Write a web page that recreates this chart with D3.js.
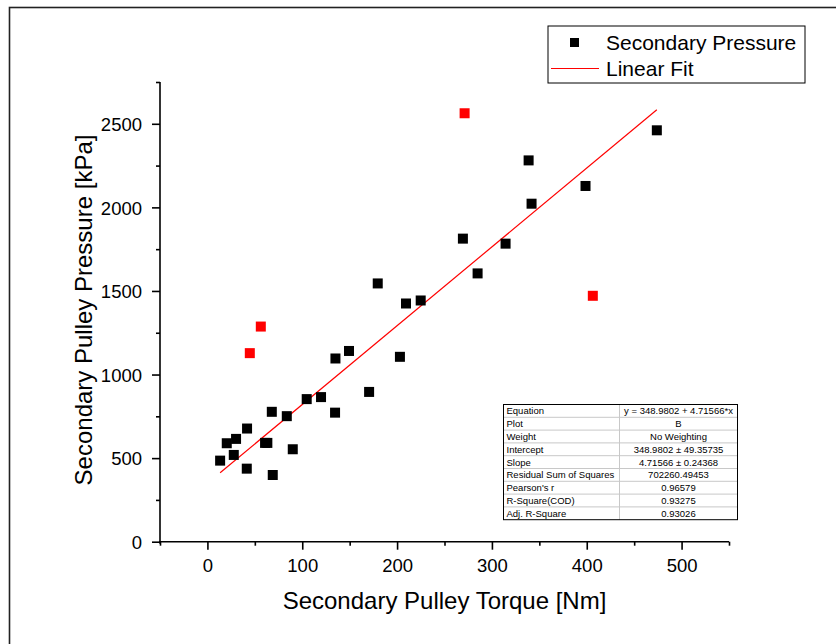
<!DOCTYPE html>
<html>
<head>
<meta charset="utf-8">
<script src="https://cdn.jsdelivr.net/npm/d3@7"></script>
<style>
  html, body { margin: 0; padding: 0; background: #fff; }
  svg { display: block; font-family: Arial, "Liberation Sans", sans-serif; }
</style>
</head>
<body>
<div id="chart"></div>
<script>
// Secondary pulley torque vs pressure, with linear fit

// Data
const torqueBlack = [13.4, 20.4, 27.8, 30.2, 41.5, 41.8, 60.8, 63.2, 67.9, 68.9, 83.7, 90, 104.7, 119.8,
    134.6, 135, 149.3, 170.5, 179.6, 203, 209.4, 224.9, 269.4, 284.9, 314.4, 338.7, 341.8, 398.7, 473.9];
const pressureBlack = [485, 589, 519, 615, 437, 677, 591, 591, 777, 399, 751, 553, 853, 865,
    772, 1096, 1141, 896, 1545, 1106, 1425, 1443, 1813, 1605, 1783, 2281, 2022, 2128, 2461];
const torqueRed = [44.7, 56.3, 271.2, 406.4];
const pressureRed = [1128, 1287, 2563, 1471];

const fitIntercept = 348.9802;
const fitSlope = 4.71566;

const xTicks = [0, 100, 200, 300, 400, 500];
const yTicks = [0, 500, 1000, 1500, 2000, 2500];

const statRows = [
    ['Equation', 'y = 348.9802 + 4.71566*x'],
    ['Plot', 'B'],
    ['Weight', 'No Weighting'],
    ['Intercept', '348.9802 \u00b1 49.35735'],
    ['Slope', '4.71566 \u00b1 0.24368'],
    ['Residual Sum of Squares', '702260.49453'],
    ["Pearson's r", '0.96579'],
    ['R-Square(COD)', '0.93275'],
    ['Adj. R-Square', '0.93026']
];

const W = 836, H = 644;
const plot = { left: 160, right: 729, top: 82, bottom: 541.7 };

const svg = d3.select('#chart').append('svg')
    .attr('width', W)
    .attr('height', H);

// Outer frame (runs off the right and bottom edges)
svg.append('rect')
    .attr('x', 9.5).attr('y', 7.5)
    .attr('width', 900).attr('height', 700)
    .attr('fill', 'none')
    .attr('stroke', '#222')
    .attr('stroke-width', 1.6);

const x = d3.scaleLinear().domain([-50, 550]).range([plot.left, plot.right]);
const y = d3.scaleLinear().domain([0, 2750]).range([plot.bottom, plot.top]);

// X axis: major + minor ticks
const xAxis = svg.append('g')
    .attr('transform', `translate(0,${plot.bottom})`);
xAxis.call(d3.axisBottom(x).tickValues(d3.range(-50, 551, 50)).tickSize(4).tickFormat(''));
xAxis.call(g => g.selectAll('.tick').filter(d => xTicks.includes(d)).select('line').attr('y2', 8));
xAxis.select('.domain').attr('d', `M${plot.left - 1},0H${plot.right}`);
xAxis.selectAll('.tick').filter(d => xTicks.includes(d)).append('text')
    .attr('y', 30)
    .attr('fill', '#000')
    .style('font-size', '18.5px')
    .attr('text-anchor', 'middle')
    .text(d => d);

// Y axis
const yAxis = svg.append('g')
    .attr('transform', `translate(${plot.left},0)`);
yAxis.call(d3.axisLeft(y).tickValues(d3.range(0, 2751, 250)).tickSize(4).tickFormat(''));
yAxis.call(g => g.selectAll('.tick').filter(d => yTicks.includes(d)).select('line').attr('x2', -8));
yAxis.select('.domain').attr('d', `M0,${plot.bottom + 2}V${plot.top}`);
yAxis.selectAll('.tick').filter(d => yTicks.includes(d)).append('text')
    .attr('x', -18)
    .attr('dy', '0.36em')
    .attr('fill', '#000')
    .style('font-size', '18.5px')
    .attr('text-anchor', 'end')
    .text(d => d);

svg.selectAll('.domain, .tick line').attr('stroke', '#000').attr('stroke-width', 1.6);

// Axis titles
svg.append('text')
    .attr('x', (plot.left + plot.right) / 2)
    .attr('y', 609)
    .attr('text-anchor', 'middle')
    .style('font-size', '24px')
    .text('Secondary Pulley Torque [Nm]');

svg.append('text')
    .attr('transform', `translate(92,310) rotate(-90)`)
    .attr('text-anchor', 'middle')
    .style('font-size', '24px')
    .text('Secondary Pulley Pressure [kPa]');

// Linear fit line
const xMin = d3.min(torqueBlack), xMax = d3.max(torqueBlack);
svg.append('line')
    .attr('x1', x(xMin)).attr('y1', y(fitIntercept + fitSlope * xMin))
    .attr('x2', x(xMax)).attr('y2', y(fitIntercept + fitSlope * xMax))
    .attr('stroke', '#ff0000')
    .attr('stroke-width', 1.2);

// Markers
const size = 10;
svg.append('g').selectAll('rect')
    .data(d3.zip(torqueBlack, pressureBlack))
    .enter().append('rect')
    .attr('x', d => x(d[0]) - size / 2)
    .attr('y', d => y(d[1]) - size / 2)
    .attr('width', size).attr('height', size)
    .attr('fill', '#000');

svg.append('g').selectAll('rect')
    .data(d3.zip(torqueRed, pressureRed))
    .enter().append('rect')
    .attr('x', d => x(d[0]) - size / 2)
    .attr('y', d => y(d[1]) - size / 2)
    .attr('width', size).attr('height', size)
    .attr('fill', '#ff0000');

// Legend
const legend = svg.append('g');
legend.append('rect')
    .attr('x', 548).attr('y', 26)
    .attr('width', 257).attr('height', 57)
    .attr('fill', '#fff')
    .attr('stroke', '#000')
    .attr('stroke-width', 1);
legend.append('rect')
    .attr('x', 570).attr('y', 38)
    .attr('width', 9).attr('height', 9)
    .attr('fill', '#000');
legend.append('line')
    .attr('x1', 551).attr('x2', 599)
    .attr('y1', 68.5).attr('y2', 68.5)
    .attr('stroke', '#ff0000').attr('stroke-width', 1);
legend.append('text')
    .attr('x', 606).attr('y', 49.5)
    .style('font-size', '21px')
    .text('Secondary Pressure');
legend.append('text')
    .attr('x', 606).attr('y', 76)
    .style('font-size', '21px')
    .text('Linear Fit');

// Fit statistics table
const tbl = { x: 503.5, y: 404.5, w: 234, colX: 619.5, rowH: 12.8 };
const table = svg.append('g');
table.append('rect')
    .attr('x', tbl.x).attr('y', tbl.y)
    .attr('width', tbl.w).attr('height', tbl.rowH * statRows.length)
    .attr('fill', '#fff');
table.selectAll('line.row')
    .data(d3.range(1, statRows.length))
    .enter().append('line')
    .attr('class', 'row')
    .attr('x1', tbl.x).attr('x2', tbl.x + tbl.w)
    .attr('y1', i => tbl.y + i * tbl.rowH).attr('y2', i => tbl.y + i * tbl.rowH)
    .attr('stroke', '#c8c8c8').attr('stroke-width', 1);
table.append('line')
    .attr('x1', tbl.colX).attr('x2', tbl.colX)
    .attr('y1', tbl.y).attr('y2', tbl.y + tbl.rowH * statRows.length)
    .attr('stroke', '#c8c8c8').attr('stroke-width', 1);
table.append('rect')
    .attr('x', tbl.x).attr('y', tbl.y)
    .attr('width', tbl.w).attr('height', tbl.rowH * statRows.length)
    .attr('fill', 'none')
    .attr('stroke', '#000').attr('stroke-width', 1);

const rows = table.selectAll('g.stat')
    .data(statRows)
    .enter().append('g')
    .attr('transform', (d, i) => `translate(0,${tbl.y + i * tbl.rowH + 9.8})`);
rows.append('text')
    .attr('x', tbl.x + 3)
    .style('font-size', '9.5px')
    .text(d => d[0]);
rows.append('text')
    .attr('x', (tbl.colX + tbl.x + tbl.w) / 2)
    .attr('text-anchor', 'middle')
    .style('font-size', '9.5px')
    .text(d => d[1]);
</script>
</body>
</html>
